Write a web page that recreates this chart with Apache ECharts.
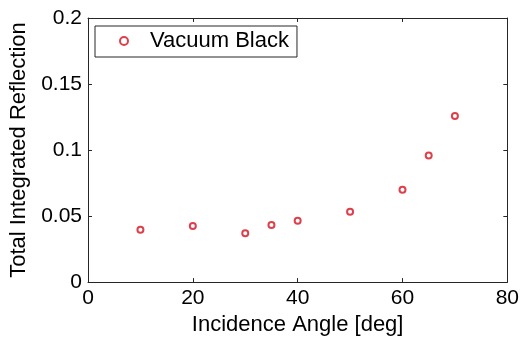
<!DOCTYPE html>
<html>
<head>
<meta charset="utf-8">
<script src="https://cdn.jsdelivr.net/npm/echarts@6/dist/echarts.min.js"></script>
<style>
html,body{margin:0;padding:0;background:#fff;}
#c{width:522px;height:341px;}
</style>
</head>
<body>
<div id="c"></div>
<script>
const angles = [10, 20, 30, 35, 40, 50, 60, 65, 70];
const reflection = [0.0396, 0.0425, 0.037, 0.0432, 0.0464, 0.0533, 0.070, 0.0958, 0.1257];
const seriesName = 'Vacuum Black';
const xTitle = 'Incidence Angle [deg]';
const yTitle = 'Total Integrated Reflection';

const FONT = 'Liberation Sans, Arial, sans-serif';
const RED = '#d4101e';
const AX = '#262626';

const chart = echarts.init(document.getElementById('c'), null, {renderer: 'canvas'});
const common = {
  min: 0,
  axisLine: {show: true, onZero: false, lineStyle: {color: AX, width: 1}},
  axisTick: {show: true, inside: true, length: 4, lineStyle: {color: AX, width: 1}},
  splitLine: {show: false}
};
chart.setOption({
  animation: false,
  backgroundColor: '#fff',
  grid: {left: 88, right: 14, top: 18, bottom: 52, containLabel: false},
  legend: {
    left: 95, top: 26,
    orient: 'horizontal',
    data: [{name: seriesName, icon: 'emptyCircle'}],
    itemWidth: 8, itemHeight: 8,
    itemGap: 0,
    padding: [4, 8, 5, 24],
    borderColor: AX, borderWidth: 1, backgroundColor: '#fff',
    textStyle: {fontFamily: FONT, fontSize: 22, color: '#000', lineHeight: 22, padding: [0, 0, 0, 17]},
    selectedMode: false
  },
  xAxis: [
    Object.assign({}, common, {
      type: 'value', position: 'bottom', max: 80, interval: 20,
      name: xTitle, nameLocation: 'middle', nameGap: 26,
      nameTextStyle: {fontFamily: FONT, fontSize: 22, color: '#000'},
      axisLabel: {fontFamily: FONT, fontSize: 21, color: '#000', margin: 6}
    }),
    Object.assign({}, common, {
      type: 'value', position: 'top', max: 80, interval: 20,
      axisLabel: {show: false}
    })
  ],
  yAxis: [
    Object.assign({}, common, {
      type: 'value', position: 'left', max: 0.2, interval: 0.05,
      name: yTitle, nameLocation: 'middle', nameGap: 54,
      nameTextStyle: {fontFamily: FONT, fontSize: 22, color: '#000'},
      axisLabel: {fontFamily: FONT, fontSize: 21, color: '#000', margin: 6}
    }),
    Object.assign({}, common, {
      type: 'value', position: 'right', max: 0.2, interval: 0.05,
      axisLabel: {show: false}
    })
  ],
  series: [{
    name: seriesName,
    type: 'scatter',
    xAxisIndex: 0, yAxisIndex: 0,
    symbol: 'emptyCircle',
    symbolSize: 6,
    itemStyle: {color: RED, borderColor: RED, borderWidth: 1.8},
    data: angles.map((a, i) => [a, reflection[i]])
  }]
});
</script>
</body>
</html>
